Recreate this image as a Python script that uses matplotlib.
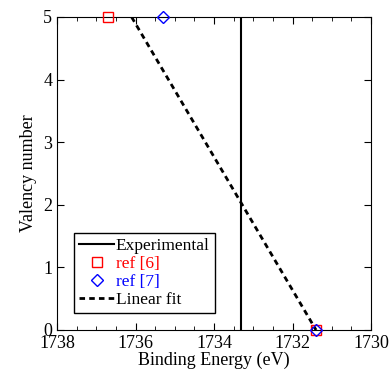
import numpy as np
import matplotlib.pyplot as plt
from matplotlib.ticker import MultipleLocator

plt.rcParams["font.family"] = ["Liberation Serif", "DejaVu Serif"]
plt.rcParams["mathtext.fontset"] = "stix"

# data
experimental_be = 1733.31
ref6_be = [1736.70, 1731.40]
ref6_val = [5, 0]
ref7_be = [1735.30, 1731.40]
ref7_val = [5, 0]
fit_be = [1736.10, 1731.40]
fit_val = [5, 0]

fig = plt.figure(figsize=(3.89, 3.71), dpi=100)
ax = fig.add_axes([57 / 389, 41 / 371, 314 / 389, 313 / 371])

ax.axvline(experimental_be, color="black", lw=1.5, label="Experimental")
ax.plot(ref6_be, ref6_val, "s", mfc="none", mec="red", ms=7, mew=1,
        label="ref [6]", clip_on=False, zorder=5)
ax.plot(ref7_be, ref7_val, "D", mfc="none", mec="blue", ms=6.5, mew=1,
        label="ref [7]", clip_on=False, zorder=5)
ax.plot(fit_be, fit_val, "--", color="black", lw=2, dashes=(2, 1.5),
        label="Linear fit")

ax.set_xlim(1738, 1730)
ax.set_ylim(0, 5)
ax.xaxis.set_major_locator(MultipleLocator(2))
ax.xaxis.set_minor_locator(MultipleLocator(0.5))
ax.yaxis.set_major_locator(MultipleLocator(1))
ax.tick_params(which="both", direction="in", top=True, right=True, labelsize=13)
ax.tick_params(which="major", length=5)
ax.tick_params(which="minor", length=3)
ax.set_xlabel("Binding Energy (eV)", fontsize=13, labelpad=0)
ax.set_ylabel("Valency number", fontsize=13)

leg = ax.legend(loc="lower left", bbox_to_anchor=(0.055, 0.055), fontsize=12.5,
                frameon=True, fancybox=False, edgecolor="black", framealpha=1,
                handlelength=2.0, handletextpad=0.1, borderpad=0.3,
                labelspacing=0.1, borderaxespad=0)
leg.get_frame().set_linewidth(1)
for text, col in zip(leg.get_texts(), ["black", "red", "blue", "black"]):
    text.set_color(col)

fig.savefig("out.png", dpi=100)
